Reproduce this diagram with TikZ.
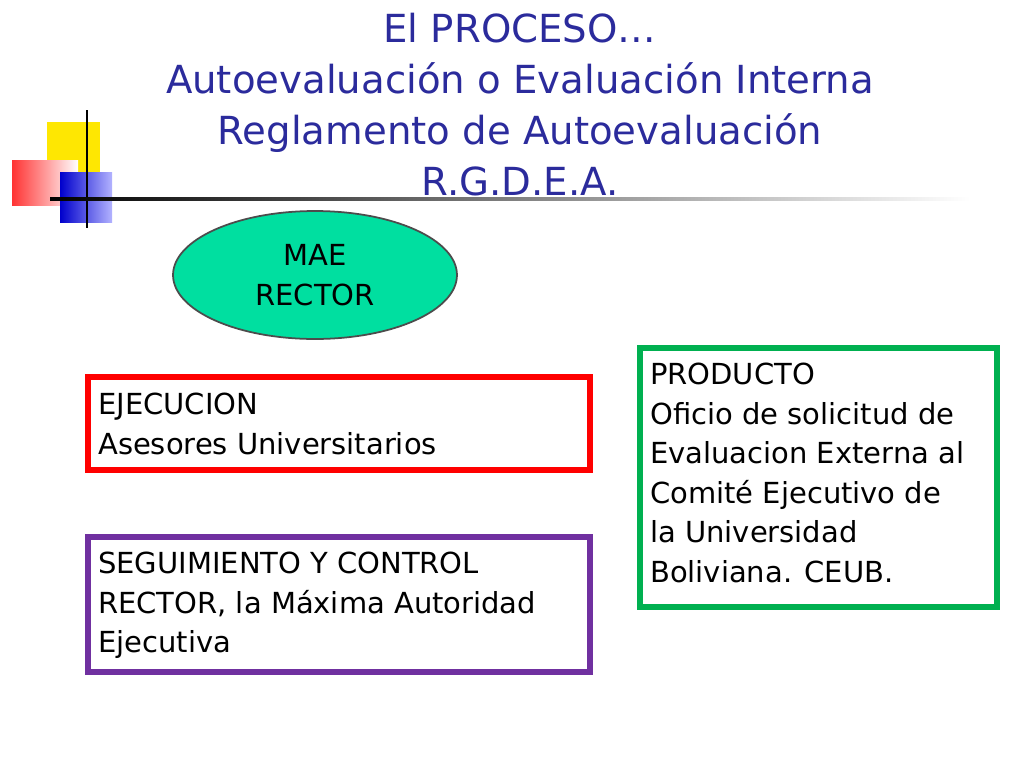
\documentclass[tikz,border=0pt]{standalone}
\usepackage{fontspec}
\setmainfont{DejaVu Sans}
\usetikzlibrary{shapes.geometric}
\definecolor{ttl}{HTML}{2B2B9C}
\definecolor{mint}{HTML}{00DFA0}
\definecolor{myred}{HTML}{FF0000}
\definecolor{mypurple}{HTML}{7030A0}
\definecolor{mygreen}{HTML}{00B050}
\begin{document}
\begin{tikzpicture}[x=0.02cm,y=-0.02cm,
  ttext/.style={text=ttl,font=\fontsize{22}{29}\selectfont,align=center},
  btext/.style={font=\fontsize{16.5}{22.5}\selectfont,align=left,anchor=north west},
  boxline/.style={line width=3.5pt}]
\useasboundingbox (0,0) rectangle (1024,768);
% decoration
\fill[yellow!90!orange] (47,122) rectangle (100,172);
\shade[left color=red!80, right color=white] (12,160) rectangle (78,205);
\shade[left color=blue!80!black, right color=blue!30] (60,172) rectangle (112,222);
\draw[line width=1.5pt] (87,110) -- (87,228);
\shade[left color=black, right color=white] (50,197) rectangle (970,200);
% title
\node[ttext] (title) at (520,105) {El PROCESO…\\Autoevaluación o Evaluación Interna\\Reglamento de Autoevaluación\\R.G.D.E.A.};
% ellipse
\node[draw=black!70,line width=1pt,fill=mint,ellipse,minimum width=5.68cm,minimum height=2.56cm,font=\fontsize{16.5}{22.5}\selectfont,align=center] (mae) at (315,275) {MAE\\RECTOR};
% boxes
\draw[boxline,myred] (88,377) rectangle (590,470);
\node[btext] (ej) at (92,387) {EJECUCION\\Asesores Universitarios};
\draw[boxline,mypurple] (88,537) rectangle (590,672);
\node[btext] (seg) at (92,546) {SEGUIMIENTO Y CONTROL\\RECTOR, la Máxima Autoridad\\Ejecutiva};
\draw[boxline,mygreen] (640,348) rectangle (997,607);
\node[btext] (prod) at (644,357) {PRODUCTO\\Oficio de solicitud de\\Evaluacion Externa al\\Comité Ejecutivo de\\la Universidad\\Boliviana. CEUB.};
\end{tikzpicture}
\end{document}
